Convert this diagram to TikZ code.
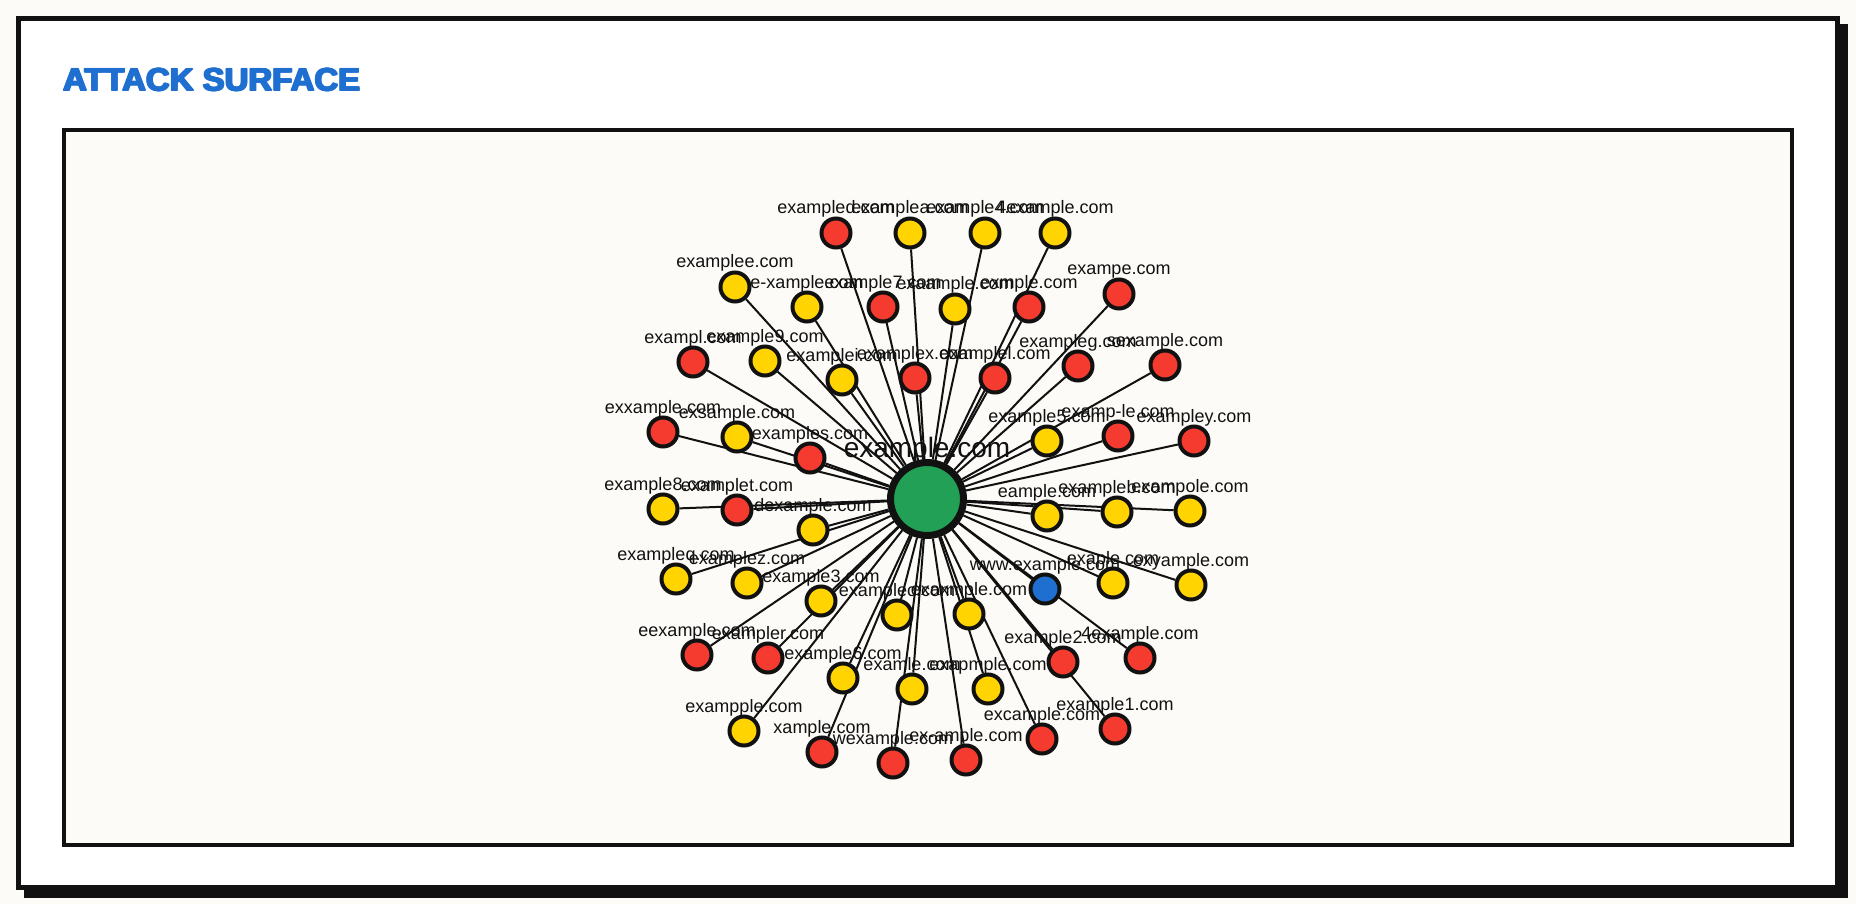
\documentclass[tikz,border=0pt]{standalone}
\usepackage{fontspec}
\setmainfont{Liberation Sans}
\newfontfamily\titlefont{Liberation Sans}
\definecolor{nred}{HTML}{F53B30}
\definecolor{nyel}{HTML}{FFD400}
\definecolor{ngreen}{HTML}{22A055}
\definecolor{nblue}{HTML}{1F6FD0}
\definecolor{ink}{HTML}{111111}
\definecolor{paper}{HTML}{FCFBF7}
\definecolor{titleblue}{HTML}{1F6FD1}
\pgfdeclarelayer{bg}
\pgfdeclarelayer{edgelayer}
\pgfsetlayers{bg,edgelayer,main}
\tikzset{
  dom/.style={circle, draw=ink, line width=4pt, minimum size=29pt, inner sep=0pt},
  hub/.style={circle, draw=ink, line width=7pt, fill=ngreen, minimum size=73pt, inner sep=0pt},
  lbl/.style={font=\fontsize{18}{20}\selectfont, text=ink, inner sep=0pt, anchor=base, yshift=19pt},
  edge/.style={draw=ink, line width=2pt},
  ttl/.style={anchor=base west, inner sep=0pt, text=titleblue, font=\titlefont\bfseries\fontsize{32}{34}\selectfont}
}
\begin{document}
\begin{tikzpicture}[x=1pt,y=-1pt]
\useasboundingbox (0,0) rectangle (1856,904);
\begin{pgfonlayer}{bg}
\fill[paper] (0,0) rectangle (1856,904);
\fill[ink] (24,24) rectangle (1848,898);
\draw[ink, line width=5.3pt, fill=white] (18.65,18.65) rectangle (1837.35,887.35);
\draw[ink, line width=4pt, fill=paper] (64,130) rectangle (1792,845);
\end{pgfonlayer}
\foreach \k/\dx/\dy in {a/0/0, b/0.9/0, c/1.8/0, d/0/0.7, e/0.9/0.7, f/1.8/0.7, g/0.9/-0.6}{
  \node[ttl] (title\k) at (62+\dx,91+\dy) {\scalebox{1.03}[1]{ATTACK SURFACE}};
}
\node[hub] (c) at (927,499) {};
\foreach \i/\x/\y/\c/\t in {
1/836/233/nred/exampled.com,
2/910/233/nyel/examplea.com,
3/985/233/nyel/example4.com,
4/1055/233/nyel/4example.com,
5/735/287/nyel/examplee.com,
6/1119/294/nred/exampe.com,
7/807/307/nyel/e-xample.com,
8/883/307/nred/example7.com,
9/955/309/nyel/exaample.com,
10/1029/307/nred/exmple.com,
11/693/362/nred/exampl.com,
12/765/361/nyel/example9.com,
13/842/380/nyel/examplei.com,
14/915/378/nred/examplex.com,
15/995/378/nred/examplel.com,
16/1078/366/nred/exampleg.com,
17/1165/365/nred/sexample.com,
18/663/432/nred/exxample.com,
19/737/437/nyel/exsample.com,
20/810/458/nred/examples.com,
21/1047/441/nyel/example5.com,
22/1118/436/nred/examp-le.com,
23/1194/441/nred/exampley.com,
24/663/509/nyel/example8.com,
25/737/510/nred/examplet.com,
26/813/530/nyel/dexample.com,
27/1047/516/nyel/eample.com,
28/1117/512/nyel/exampleb.com,
29/1190/511/nyel/exampole.com,
30/676/579/nyel/exampleq.com,
31/747/583/nyel/examplez.com,
32/821/601/nyel/example3.com,
33/897/615/nyel/examplec.com,
34/969/614/nyel/exaxmple.com,
35/1045/589/nblue/www.example.com,
36/1113/583/nyel/exaple.com,
37/1191/585/nyel/exyample.com,
38/697/655/nred/eexample.com,
39/768/658/nred/exampler.com,
40/1063/662/nred/example2.com,
41/1140/658/nred/4example.com,
42/843/678/nyel/example6.com,
43/912/689/nyel/examle.com,
44/988/689/nyel/exapmple.com,
45/1042/739/nred/excample.com,
46/1115/729/nred/example1.com,
47/744/731/nyel/exampple.com,
48/822/752/nred/xample.com,
49/893/763/nred/wexample.com,
50/966/760/nred/ex-ample.com}{
  \node[dom, fill=\c] (n\i) at (\x,\y) {};
  \begin{pgfonlayer}{edgelayer}
    \draw[edge] (c) -- (n\i);
  \end{pgfonlayer}
  \node[lbl] (l\i) at (n\i.center) {\t};
}
\node[font=\fontsize{28}{30}\selectfont, text=ink, inner sep=0pt, anchor=base] (cl) at (927,457) {example.com};
\end{tikzpicture}
\end{document}
